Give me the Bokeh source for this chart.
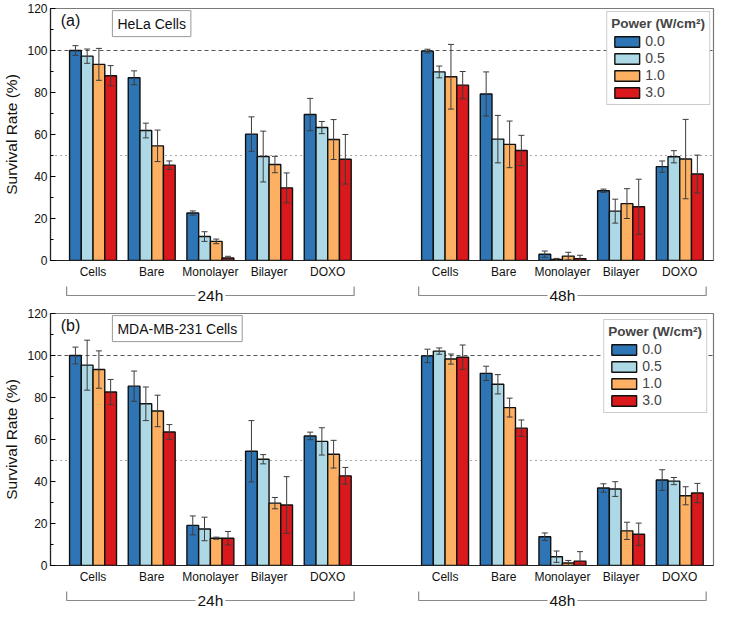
from bokeh.plotting import figure
from bokeh.models import (ColumnDataSource, Range1d, FixedTicker, Span, Label,
                          Whisker, TeeHead)
from bokeh.layouts import column
from bokeh.embed import file_html
from bokeh.resources import INLINE

groups = ["Cells", "Bare", "Monolayer", "Bilayer", "DOXO"]
times = ["24h", "48h"]
powers = ["0.0", "0.5", "1.0", "3.0"]
colors = ["#2E75B6", "#ADD8E6", "#FDB062", "#D9191C"]

# values: 5 groups at 24h followed by 5 groups at 48h
hela_p00 = [100.0, 87.0, 22.6, 60.2, 69.5, 99.7, 79.3, 3.0, 33.2, 44.7]
hela_p05 = [97.3, 61.9, 11.4, 49.5, 63.3, 89.8, 57.8, 0.5, 23.5, 49.4]
hela_p10 = [93.4, 54.6, 9.1, 45.7, 57.6, 87.5, 55.3, 2.1, 27.1, 48.3]
hela_p30 = [88.0, 45.4, 1.2, 34.6, 48.2, 83.5, 52.4, 0.9, 25.6, 41.2]
hela_e00 = [2.3, 3.3, 1.0, 8.2, 7.7, 0.9, 10.5, 1.5, 0.8, 2.7]
hela_e05 = [3.4, 3.5, 2.3, 12.1, 2.9, 2.8, 11.3, 0.5, 5.7, 2.9]
hela_e10 = [7.6, 7.5, 1.1, 3.9, 9.5, 15.4, 11.1, 1.8, 7.1, 18.9]
hela_e30 = [4.8, 2.0, 0.8, 7.1, 11.8, 6.5, 7.2, 1.6, 13.1, 9.0]

mda_p00 = [100.0, 85.4, 19.1, 54.4, 61.7, 99.8, 91.5, 13.7, 36.9, 40.7]
mda_p05 = [95.4, 77.0, 17.4, 50.6, 59.1, 102.1, 86.3, 4.2, 36.4, 40.2]
mda_p10 = [93.3, 73.6, 13.0, 29.7, 53.0, 98.3, 75.2, 1.2, 16.5, 33.2]
mda_p30 = [82.6, 63.6, 13.0, 28.8, 42.7, 99.2, 65.4, 2.1, 14.9, 34.5]
mda_e00 = [4.0, 7.2, 4.5, 14.6, 1.8, 3.2, 3.4, 1.8, 2.0, 4.9]
mda_e05 = [11.9, 8.0, 5.6, 2.2, 6.5, 1.5, 4.6, 2.7, 3.5, 1.7]
mda_e10 = [8.9, 7.5, 0.5, 2.7, 6.6, 2.4, 4.5, 1.2, 4.1, 4.3]
mda_e30 = [6.0, 3.5, 3.2, 13.5, 4.0, 5.8, 3.9, 4.5, 5.3, 4.6]

y_ticks = [0, 20, 40, 60, 80, 100, 120]
ref_full = 100
ref_half = 50

FONT = "Liberation Sans"
NG = len(groups)
pos = [t * (NG + 1) + g + 1 for t in range(len(times)) for g in range(NG)]
BW = 0.2
offsets = [(k - 1.5) * BW for k in range(len(powers))]

LEFT = 48
RIGHT = 2
FW = 713 - LEFT - RIGHT
FH = 252
XR = Range1d(0.275, 11.575)


def make_panel(means, errs, tag, name, legend_margin):
    p = figure(frame_width=FW, frame_height=FH, x_range=XR, y_range=Range1d(0, 120),
               output_backend="svg", toolbar_location=None,
               min_border_left=LEFT, min_border_right=RIGHT,
               min_border_top=8, min_border_bottom=20)
    p.xgrid.visible = False
    p.ygrid.visible = False
    p.outline_line_color = "#7a7a7a"
    p.outline_line_width = 1.2

    p.add_layout(Span(location=ref_full, dimension="width", line_color="#555555",
                      line_width=1, line_dash="4 3", level="underlay"))
    p.add_layout(Span(location=ref_half, dimension="width", line_color="#555555",
                      line_width=1, line_dash="1 4", level="underlay"))

    for k, (m, e) in enumerate(zip(means, errs)):
        src = ColumnDataSource(dict(
            x=[v + offsets[k] for v in pos], top=m,
            upper=[a + b for a, b in zip(m, e)],
            lower=[a - b for a, b in zip(m, e)]))
        p.vbar(x="x", top="top", width=BW, source=src, fill_color=colors[k],
               line_color="#111111", line_width=1.4, legend_label=powers[k])
        w = Whisker(source=src, base="x", upper="upper", lower="lower",
                    line_color="#3c3c3c", line_width=1,
                    upper_head=TeeHead(size=6, line_color="#3c3c3c", line_width=1),
                    lower_head=TeeHead(size=6, line_color="#3c3c3c", line_width=1),
                    level="annotation")
        p.add_layout(w)

    # axes
    p.yaxis.ticker = FixedTicker(ticks=y_ticks, minor_ticks=list(range(0, 121, 10)))
    p.yaxis.axis_label = "Survival Rate (%)"
    p.yaxis.axis_label_text_font = FONT
    p.yaxis.axis_label_text_font_size = "15.5px"
    p.yaxis.axis_label_text_font_style = "normal"
    p.yaxis.axis_label_text_color = "#111111"
    p.yaxis.axis_label_standoff = 4
    p.yaxis.major_label_text_font = FONT
    p.yaxis.major_label_text_font_size = "12px"
    p.yaxis.major_label_text_color = "#111111"
    p.yaxis.major_label_standoff = 3
    p.yaxis.major_tick_in = 5
    p.yaxis.major_tick_out = 0
    p.yaxis.minor_tick_in = 3
    p.yaxis.minor_tick_out = 0
    p.yaxis.axis_line_color = "#222222"
    p.yaxis.axis_line_width = 1.2

    p.xaxis.ticker = FixedTicker(ticks=pos)
    p.xaxis.major_label_overrides = {v: groups[i % NG] for i, v in enumerate(pos)}
    p.xaxis.major_label_text_font = FONT
    p.xaxis.major_label_text_font_size = "12px"
    p.xaxis.major_label_text_color = "#111111"
    p.xaxis.major_label_standoff = 4
    p.xaxis.major_tick_line_color = None
    p.xaxis.minor_tick_line_color = None
    p.xaxis.major_tick_in = 0
    p.xaxis.major_tick_out = 0
    p.xaxis.axis_line_color = "#222222"
    p.xaxis.axis_line_width = 1.2

    lg = p.legend[0]
    lg.title = "Power (W/cm\u00b2)"
    lg.title_text_font = FONT
    lg.title_text_font_style = "bold"
    lg.title_text_font_size = "13.5px"
    lg.title_standoff = 2
    lg.label_text_font = FONT
    lg.label_text_font_size = "14px"
    lg.label_standoff = 3
    lg.glyph_width = 31
    lg.glyph_height = 13
    lg.label_height = 13
    lg.spacing = 1
    lg.padding = 4
    lg.margin = legend_margin
    lg.location = "top_right"
    lg.border_line_color = "#999999"
    lg.border_line_width = 1
    lg.background_fill_alpha = 1

    p.add_layout(Label(x=0.45, y=114.5, text=tag, text_font=FONT, text_font_size="16px",
                       text_baseline="middle", text_align="left", text_color="#111111"))
    p.add_layout(Label(x=1.33, y=119, text=name, text_font=FONT, text_font_size="14px",
                       text_baseline="top", text_align="left", text_color="#111111",
                       padding=5, border_line_color="#999999", border_line_width=1,
                       background_fill_color="white"))
    return p


def make_bracket():
    b = figure(frame_width=FW, height=24, x_range=XR, y_range=Range1d(0, 24),
               output_backend="svg", toolbar_location=None,
               min_border_left=LEFT, min_border_right=RIGHT,
               min_border_top=0, min_border_bottom=0,
               x_axis_location=None, y_axis_location=None)
    b.xgrid.visible = False
    b.ygrid.visible = False
    b.outline_line_color = None
    xs, ys = [], []
    for t, name in enumerate(times):
        first = pos[t * NG]
        last = pos[t * NG + NG - 1]
        xs.append([first - 0.45, first - 0.45, last + 0.45, last + 0.45])
        ys.append([19, 10, 10, 19])
    b.multi_line(xs=xs, ys=ys, line_color="#8a8a8a", line_width=1.2)
    for t, name in enumerate(times):
        first = pos[t * NG]
        last = pos[t * NG + NG - 1]
        b.add_layout(Label(x=(first + last) / 2, y=10, text=name, text_font=FONT,
                           text_font_size="15.5px", text_align="center",
                           text_baseline="middle", text_color="#111111",
                           background_fill_color="white", padding=2))
    return b


pa = make_panel([hela_p00, hela_p05, hela_p10, hela_p30],
                [hela_e00, hela_e05, hela_e10, hela_e30], "(a)", "HeLa Cells", 3)
pb = make_panel([mda_p00, mda_p05, mda_p10, mda_p30],
                [mda_e00, mda_e05, mda_e10, mda_e30], "(b)", "MDA-MB-231 Cells", 6)

layout = column(pa, make_bracket(), pb, make_bracket(), spacing=0)
open("out.html", "w").write(file_html(layout, INLINE))
